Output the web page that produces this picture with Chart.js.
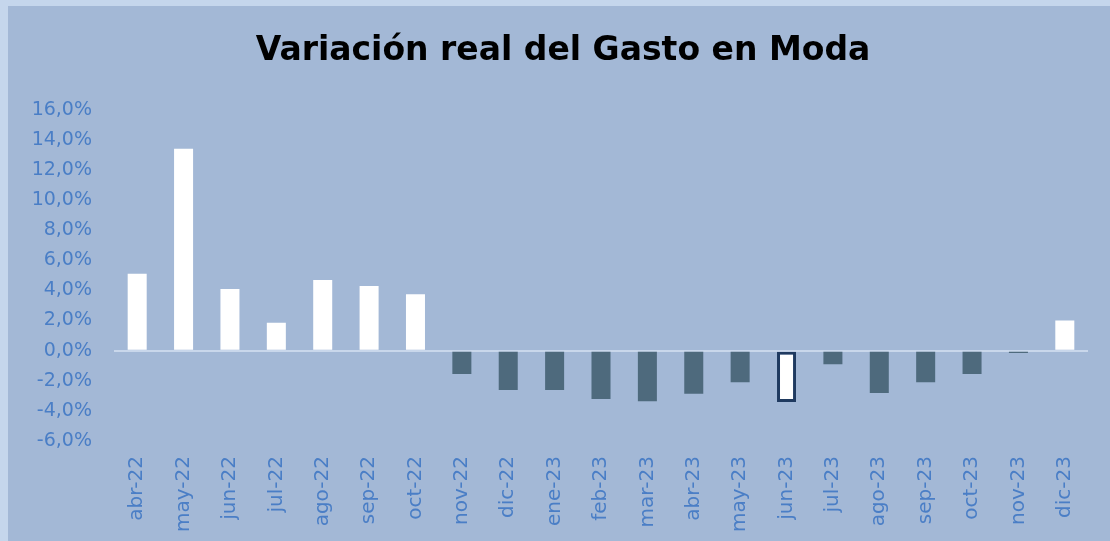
<!DOCTYPE html>
<html>
<head>
<meta charset="utf-8">
<script src="https://cdn.jsdelivr.net/npm/chart.js@4"></script>
<style>
  html, body { margin: 0; padding: 0; overflow: hidden; background: #c5d6ec; }
  #box { position: absolute; left: 8px; top: 6px; width: 1102px; height: 560px; background: #a3b8d6; }
</style>
</head>
<body>
<div id="box"><canvas id="gastoChart" width="1102" height="533"></canvas></div>
<script>
// datos
const meses = ["abr-22", "may-22", "jun-22", "jul-22", "ago-22", "sep-22", "oct-22", "nov-22", "dic-22",
    "ene-23", "feb-23", "mar-23", "abr-23", "may-23", "jun-23", "jul-23", "ago-23", "sep-23", "oct-23", "nov-23", "dic-23"];
const variacion = [5.1, 13.4, 4.1, 1.85, 4.7, 4.3, 3.75, -1.55, -2.6,
    -2.6, -3.2, -3.35, -2.85, -2.1, -3.4, -0.9, -2.8, -2.1, -1.55, -0.15, 2.0];
const destacado = "jun-23";
const yMin = -6, yMax = 16, yPaso = 2;

const azulTexto = "#4a7ec6";
const fuente = "'DejaVu Sans', sans-serif";

document.addEventListener("DOMContentLoaded", () => {
    const ctx = document.getElementById("gastoChart").getContext("2d");

    new Chart(ctx, {
        type: "bar",
        data: {
            labels: meses,
            datasets: [
                {
                    label: "Variación real",
                    data: variacion,
                    backgroundColor: variacion.map((v, i) =>
                        meses[i] === destacado || v >= 0 ? "#ffffff" : "#4e6a7d"),
                    borderColor: meses.map(m => m === destacado ? "#1f3a60" : "rgba(0,0,0,0)"),
                    borderWidth: meses.map(m => m === destacado ? 3 : 0),
                    borderSkipped: false,
                    barPercentage: 0.41,
                    categoryPercentage: 1,
                },
            ],
        },
        options: {
            responsive: false,
            devicePixelRatio: 1,
            animation: false,
            layout: { padding: { left: 8, right: 0, top: 0, bottom: 0 } },
            plugins: {
                legend: { display: false },
                tooltip: { enabled: false },
                title: {
                    display: true,
                    text: "Variación real del Gasto en Moda",
                    color: "#000000",
                    font: { family: fuente, size: 33, weight: "bold" },
                    padding: { top: 26, bottom: 38 },
                },
            },
            scales: {
                x: {
                    grid: { display: false },
                    border: { display: false },
                    ticks: {
                        autoSkip: false,
                        maxRotation: 90,
                        minRotation: 90,
                        padding: 7,
                        color: azulTexto,
                        font: { family: fuente, size: 20 },
                    },
                },
                y: {
                    min: yMin,
                    max: yMax,
                    border: { display: false },
                    grid: {
                        drawTicks: false,
                        color: c => c.tick.value === 0 ? "#c9d7eb" : "rgba(0,0,0,0)",
                        lineWidth: 2,
                    },
                    ticks: {
                        stepSize: yPaso,
                        padding: 22,
                        color: azulTexto,
                        font: { family: fuente, size: 19 },
                        callback: v => v.toFixed(1).replace(".", ",") + "%",
                    },
                    afterFit: s => { s.width = 98; },
                },
                // eje vacío a la derecha, solo deja el margen
                margen: {
                    position: "right",
                    grid: { display: false },
                    border: { display: false },
                    ticks: { display: false },
                    afterFit: s => { s.width = 22; },
                },
            },
        },
    });
});
</script>
</body>
</html>
